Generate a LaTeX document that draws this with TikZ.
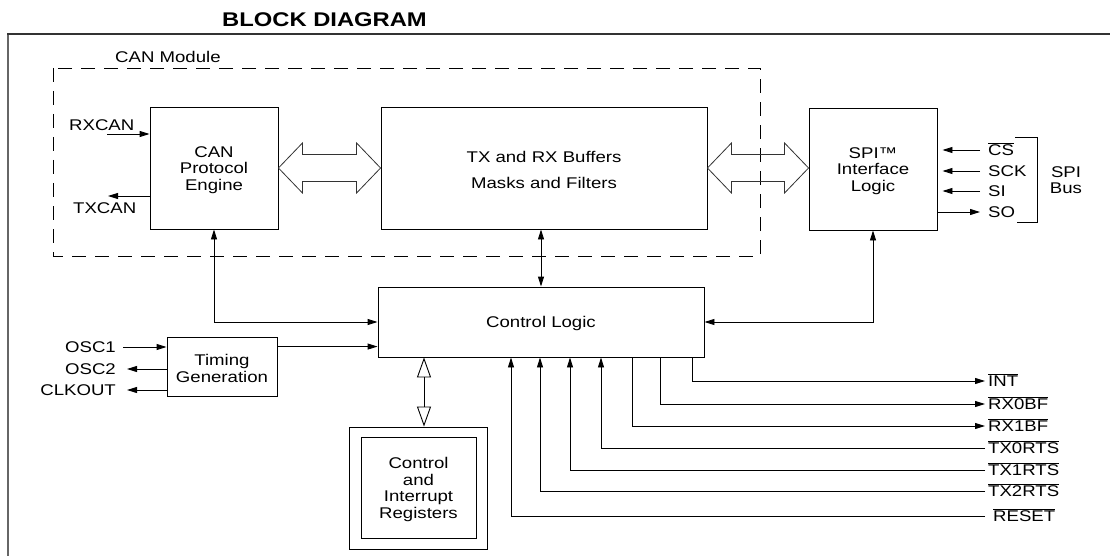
\documentclass[tikz,border=0pt]{standalone}
\usepackage{fontspec}
\setmainfont{Liberation Sans}[FakeStretch=1.2]
\usetikzlibrary{arrows.meta,calc}
\newcommand\ovl[1]{$\overline{\mbox{#1}}$}
\newcommand\dn{\rule{0pt}{15pt}}
\newcommand\fatarrow[2]{\draw[fat] (#1) -- ([shift={(24,-25)}]#1) -- ([shift={(24,-13.5)}]#1) -- ([shift={(-24,-13.5)}]#2) -- ([shift={(-24,-25)}]#2) -- (#2) -- ([shift={(-24,25)}]#2) -- ([shift={(-24,13.5)}]#2) -- ([shift={(24,13.5)}]#1) -- ([shift={(24,25)}]#1) -- cycle;}
\begin{document}
\begin{tikzpicture}[x=1pt,y=-1pt,
  every node/.style={font=\fontsize{15.5}{16.7}\selectfont, inner sep=0pt},
  blk/.style={draw, line width=0.9pt, align=center},
  lbl/.style={text height=11pt, text depth=0pt},
  sig/.style={line width=0.9pt, -{Triangle[length=10pt,width=6pt]}},
  dsig/.style={line width=0.9pt, {Triangle[length=10pt,width=6pt]}-{Triangle[length=10pt,width=6pt]}},
  line/.style={line width=0.9pt},
  fat/.style={line width=0.8pt, black!80, line join=miter},
  oarr/.style={line width=0.9pt, {Triangle[open,length=20pt,width=14pt]}-{Triangle[open,length=20pt,width=14pt]}},
  dbox/.style={line width=0.9pt, dash pattern=on 14pt off 9pt}]
\useasboundingbox (0,0) rectangle (1110,556);
% frame
\draw[line width=2pt, black!60] (8,556) -- (8,34);
\draw[line width=1.5pt, black!80] (7,34) -- (1110,34);
\node[font=\fontsize{19.8}{21}\selectfont\bfseries] (title) at (324.5,20) {BLOCK DIAGRAM};
% CAN module
\draw[dbox] (53,68) rectangle (760,256);
\node[lbl, anchor=west] (canmod) at (115,57) {CAN Module};
% blocks
\node[blk, minimum width=128pt, minimum height=122pt] (cpe) at (214,168) {\dn CAN\\Protocol\\Engine};
\node[blk, minimum width=326pt, minimum height=122pt] (buf) at (544,168) {\dn TX and RX Buffers\\[9.3pt]Masks and Filters};
\node[blk, minimum width=128pt, minimum height=122pt] (spi) at (873,169) {\dn SPI™\\Interface\\Logic};
\node[blk, minimum width=326pt, minimum height=70pt] (ctl) at (541,322) {\dn Control Logic};
\node[blk, minimum width=110pt, minimum height=59pt] (tim) at (222,366.5) {\dn Timing\\Generation};
\node[blk, minimum width=138pt, minimum height=122pt] (regout) at (418,488) {};
\node[blk, minimum width=115pt, minimum height=101pt] (regin) at (418.5,487.5) {\dn Control\\and\\Interrupt\\Registers};
% fat arrows
\coordinate (spiw) at (spi.west |- buf.east);
\fatarrow{cpe.east}{buf.west}
\fatarrow{buf.east}{spiw}
% CAN pins
\node[lbl, anchor=west] (rxcan) at (69,125) {RXCAN};
\node[lbl, anchor=west] (txcan) at (73,208) {TXCAN};
\coordinate (rxin) at (107,134);
\coordinate (txout) at (108,196);
\draw[sig] (rxin) -- (cpe.west |- rxin);
\draw[sig] (cpe.west |- txout) -- (txout);
% oscillator pins
\node[lbl, anchor=east] (osc1) at (116,347) {OSC1};
\node[lbl, anchor=east] (osc2) at (116,369) {OSC2};
\node[lbl, anchor=east] (clk) at (116,390) {CLKOUT};
\draw[sig, shorten <=7pt] (osc1.east) -- (tim.west |- osc1.east);
\draw[sig, shorten >=11pt] (tim.west |- osc2.east) -- (osc2.east);
\draw[sig, shorten >=11pt] (tim.west |- clk.east) -- (clk.east);
\draw[sig] ([yshift=-10pt]tim.north east) coordinate (tc) -- (ctl.west |- tc);
% internal connections
\draw[dsig] (cpe.south) |- (ctl.west);
\draw[dsig] (ctl.north |- buf.south) -- (ctl.north);
\draw[dsig] (ctl.east) -| (spi.south);
\coordinate (ra) at ([xshift=-117pt]ctl.south);
\draw[oarr] (ra) -- (ra |- regout.north);
% SPI pins
\node[lbl, anchor=west] (cs) at (988,150) {\ovl{CS}};
\node[lbl, anchor=west] (sck) at (988,171) {SCK};
\node[lbl, anchor=west] (si) at (988,191) {SI};
\node[lbl, anchor=west] (so) at (988,212) {SO};
\draw[sig, shorten <=8pt, shorten >=5pt] (cs.west) -- (spi.east |- cs.west);
\draw[sig, shorten <=8pt, shorten >=5pt] (sck.west) -- (spi.east |- sck.west);
\draw[sig, shorten <=8pt, shorten >=5pt] (si.west) -- (spi.east |- si.west);
\draw[sig, shorten >=8pt] (spi.east |- so.west) -- (so.west);
\draw[line] (1015,137) -- (1037,137) -- (1037,222) -- (1017,222);
\node[align=center] (spibus) at (1066,178) {\dn SPI\\Bus};
% control pins
\node[lbl, anchor=west] (int) at (988,381) {\ovl{INT}};
\node[lbl, anchor=west] (rx0) at (988,404) {\ovl{RX0BF}};
\node[lbl, anchor=west] (rx1) at (988,426) {\ovl{RX1BF}};
\node[lbl, anchor=west] (tx0) at (988,448) {\ovl{TX0RTS}};
\node[lbl, anchor=west] (tx1) at (988,470) {\ovl{TX1RTS}};
\node[lbl, anchor=west] (tx2) at (988,491) {\ovl{TX2RTS}};
\node[lbl, anchor=west] (rst) at (993,516) {\ovl{RESET}};
\draw[sig, shorten >=3pt] ([xshift=151pt]ctl.south) |- (int.west);
\draw[sig, shorten >=3pt] ([xshift=119pt]ctl.south) |- (rx0.west);
\draw[sig, shorten >=3pt] ([xshift=91pt]ctl.south) |- (rx1.west);
\draw[sig, shorten <=3pt] (tx0.west) -| ([xshift=60pt]ctl.south);
\draw[sig, shorten <=3pt] (tx1.west) -| ([xshift=29pt]ctl.south);
\draw[sig, shorten <=3pt] (tx2.west) -| ([xshift=-1pt]ctl.south);
\draw[sig, shorten <=8pt] (rst.west) -| ([xshift=-30pt]ctl.south);
\end{tikzpicture}
\end{document}
